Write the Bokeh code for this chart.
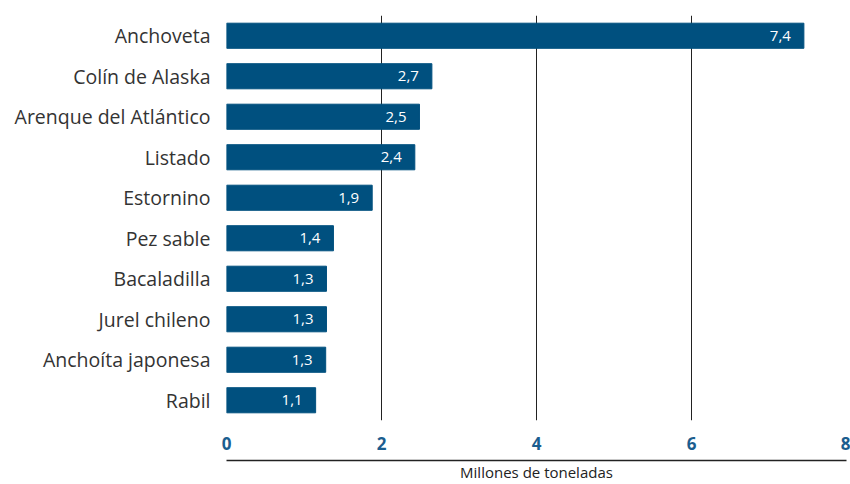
from bokeh.plotting import figure
from bokeh.models import FactorRange, Range1d, LinearAxis, FixedTicker, ColumnDataSource, LabelSet
from bokeh.core.properties import value
from bokeh.embed import file_html
from bokeh.resources import INLINE

species = ["Anchoveta", "Colín de Alaska", "Arenque del Atlántico", "Listado", "Estornino",
           "Pez sable", "Bacaladilla", "Jurel chileno", "Anchoíta japonesa", "Rabil"]
values = [7.45, 2.65, 2.49, 2.43, 1.88, 1.38, 1.29, 1.29, 1.28, 1.15]
value_labels = ["7,4", "2,7", "2,5", "2,4", "1,9", "1,4", "1,3", "1,3", "1,3", "1,1"]
x_ticks = [0, 2, 4, 6, 8]
x_title = "Millones de toneladas"

BAR = "#00507f"
TICK_BLUE = "#1b5d8e"
FONT = "Open Sans"

src = ColumnDataSource(dict(species=species, values=values, labels=value_labels))

p = figure(width=850, height=484, output_backend="svg", toolbar_location=None,
           y_range=FactorRange(factors=species[::-1]), x_range=Range1d(0, 8),
           min_border_left=226, min_border_right=4, min_border_top=15, min_border_bottom=40)
p.outline_line_color = None

p.hbar(y="species", right="values", left=0, height=0.62, source=src, color=BAR)

labels = LabelSet(x="values", y="species", text="labels", source=src, x_offset=-13,
                  text_align="right", text_baseline="middle", text_color="white",
                  text_font=value(FONT), text_font_size=value("15px"))
p.add_layout(labels)

# x axis (tick labels)
xa = p.xaxis[0]
xa.ticker = FixedTicker(ticks=x_ticks)
xa.axis_line_color = None
xa.major_tick_line_color = None
xa.minor_tick_line_color = None
xa.major_tick_out = 0
xa.major_tick_in = 0
xa.major_label_standoff = 16
xa.major_label_text_font = FONT
xa.major_label_text_font_style = "bold"
xa.major_label_text_font_size = "17px"
xa.major_label_text_color = TICK_BLUE
xa.axis_label = " "
xa.axis_label_text_font_size = "2px"
xa.axis_label_standoff = 3

# second axis: rule line + title
xa2 = LinearAxis(ticker=FixedTicker(ticks=[]))
xa2.axis_line_color = "#222222"
xa2.axis_line_width = 1.5
xa2.major_tick_out = 0
xa2.major_tick_in = 0
xa2.axis_label = x_title
xa2.axis_label_text_font = FONT
xa2.axis_label_text_font_style = "normal"
xa2.axis_label_text_font_size = "15px"
xa2.axis_label_text_color = "#222222"
xa2.axis_label_standoff = 1
p.add_layout(xa2, "below")

ya = p.yaxis[0]
ya.axis_line_color = None
ya.major_tick_line_color = None
ya.minor_tick_line_color = None
ya.major_tick_out = 0
ya.major_label_standoff = 16
ya.major_label_text_font = FONT
ya.major_label_text_font_size = "19.5px"
ya.major_label_text_color = "#333333"

p.xgrid.ticker = FixedTicker(ticks=x_ticks)
p.xgrid.grid_line_color = "#222222"
p.xgrid.grid_line_width = 1
p.ygrid.grid_line_color = None

open("out.html", "w").write(file_html(p, INLINE))
